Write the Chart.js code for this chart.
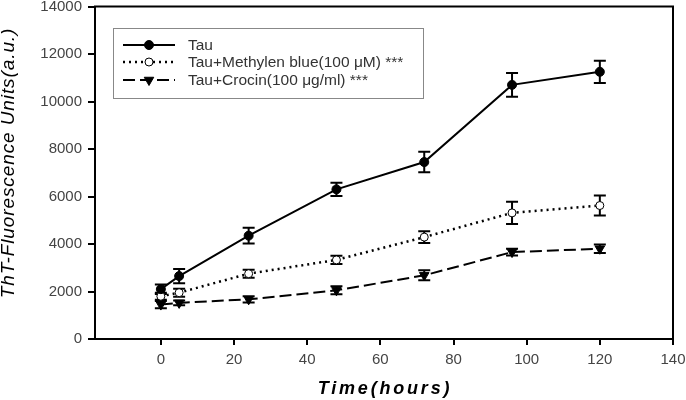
<!DOCTYPE html>
<html>
<head>
<meta charset="utf-8">
<script src="https://cdn.jsdelivr.net/npm/chart.js@4.4.1/dist/chart.umd.min.js"></script>
<style>
  html, body { margin: 0; padding: 0; background: #fff; }
</style>
</head>
<body>
<canvas id="chart" width="686" height="400"></canvas>
<script>
// --- data ---
const times = [0, 5, 24, 48, 72, 96, 120];
const seriesNames = ["Tau", "Tau+Methylen blue(100 \u03bcM) ***", "Tau+Crocin(100 \u03bcg/ml) ***"];
const tau = [2100, 2650, 4350, 6300, 7450, 10700, 11250];
const tauErr = [200, 300, 330, 280, 430, 500, 470];
const methylene = [1800, 1950, 2750, 3330, 4290, 5310, 5620];
const methyleneErr = [150, 170, 170, 175, 250, 470, 420];
const crocin = [1450, 1520, 1670, 2050, 2680, 3660, 3800];
const crocinErr = [150, 100, 130, 170, 210, 140, 180];
const xTicks = [0, 20, 40, 60, 80, 100, 120, 140];
const xTitle = "Time(hours)";
const yTitle = "ThT-Fluorescence Units(a.u.)";

const errors = [tauErr, methyleneErr, crocinErr];
const toPoints = (vals) => vals.map((v, i) => ({ x: times[i], y: v }));

// error bars with caps, drawn under the markers
const errorBars = {
  id: "errorBars",
  beforeDatasetsDraw(chart) {
    const ctx = chart.ctx;
    const yScale = chart.scales.y;
    ctx.save();
    ctx.strokeStyle = "#000";
    ctx.lineWidth = 2;
    chart.data.datasets.forEach((ds, i) => {
      const meta = chart.getDatasetMeta(i);
      meta.data.forEach((pt, j) => {
        const e = errors[i][j];
        const v = ds.data[j].y;
        const top = yScale.getPixelForValue(v + e);
        const bot = yScale.getPixelForValue(v - e);
        ctx.beginPath();
        ctx.moveTo(pt.x, top);
        ctx.lineTo(pt.x, bot);
        ctx.moveTo(pt.x - 6, top);
        ctx.lineTo(pt.x + 6, top);
        ctx.moveTo(pt.x - 6, bot);
        ctx.lineTo(pt.x + 6, bot);
        ctx.stroke();
      });
    });
    ctx.restore();
  }
};

// box frame, axis titles and the legend inside the plot
const frameAndLegend = {
  id: "frameAndLegend",
  afterDraw(chart) {
    const ctx = chart.ctx;
    const a = chart.chartArea;
    ctx.save();
    ctx.strokeStyle = "#000";
    ctx.lineWidth = 2;
    ctx.beginPath();
    ctx.moveTo(a.left - 1, a.top);
    ctx.lineTo(a.right, a.top);
    ctx.lineTo(a.right, a.bottom + 1);
    ctx.stroke();

    // axis titles (spaced out like the original)
    ctx.fillStyle = "#000";
    ctx.textAlign = "center";
    ctx.textBaseline = "middle";
    ctx.font = "italic bold 18px 'Liberation Sans', Arial, sans-serif";
    ctx.letterSpacing = "2.8px";
    ctx.fillText(xTitle, (a.left + a.right) / 2 + 1, 389);
    ctx.save();
    ctx.translate(9, 163);
    ctx.rotate(-Math.PI / 2);
    ctx.font = "italic 19px 'Liberation Sans', Arial, sans-serif";
    ctx.letterSpacing = "0.9px";
    ctx.fillText(yTitle, 0, 0);
    ctx.restore();
    ctx.letterSpacing = "0px";
    ctx.textAlign = "left";

    // legend box
    ctx.strokeStyle = "#888";
    ctx.lineWidth = 1;
    ctx.strokeRect(113.5, 28.5, 310, 70);

    const rows = [45, 62, 80];
    chart.data.datasets.forEach((ds, i) => {
      const y = rows[i];
      ctx.strokeStyle = "#000";
      ctx.lineWidth = ds.borderWidth;
      ctx.setLineDash(ds.borderDash || []);
      ctx.beginPath();
      ctx.moveTo(123, y);
      ctx.lineTo(175, y);
      ctx.stroke();
      ctx.setLineDash([]);
      ctx.fillStyle = ds.pointBackgroundColor;
      ctx.strokeStyle = ds.pointBorderColor;
      ctx.lineWidth = ds.pointBorderWidth;
      Chart.helpers.drawPoint(ctx, {
        pointStyle: ds.pointStyle,
        radius: ds.pointRadius,
        rotation: ds.pointRotation || 0,
        borderWidth: ds.pointBorderWidth
      }, 149, y);
      ctx.fillStyle = "#333";
      ctx.font = "15.5px 'Liberation Sans', Arial, sans-serif";
      ctx.textBaseline = "middle";
      ctx.fillText(seriesNames[i], 188, y + 1);
    });
    ctx.restore();
  }
};

new Chart(document.getElementById("chart"), {
  type: "line",
  data: {
    datasets: [
      {
        label: seriesNames[0],
        data: toPoints(tau),
        borderColor: "#000",
        borderWidth: 2,
        pointStyle: "circle",
        pointRadius: 4.5,
        pointBackgroundColor: "#000",
        pointBorderColor: "#000",
        pointBorderWidth: 1
      },
      {
        label: seriesNames[1],
        data: toPoints(methylene),
        borderColor: "#000",
        borderWidth: 2.5,
        borderDash: [2, 4],
        pointStyle: "circle",
        pointRadius: 4,
        pointBackgroundColor: "#fff",
        pointBorderColor: "#000",
        pointBorderWidth: 1
      },
      {
        label: seriesNames[2],
        data: toPoints(crocin),
        borderColor: "#000",
        borderWidth: 2,
        borderDash: [12, 5],
        pointStyle: "triangle",
        pointRotation: 180,
        pointRadius: 5.5,
        pointBackgroundColor: "#000",
        pointBorderColor: "#000",
        pointBorderWidth: 1
      }
    ]
  },
  options: {
    responsive: false,
    animation: false,
    devicePixelRatio: 1,
    layout: { padding: { top: 5, right: 13, left: 0, bottom: 0 } },
    plugins: {
      legend: { display: false },
      tooltip: { enabled: false }
    },
    scales: {
      x: {
        type: "linear",
        min: -18,
        max: 140,
        afterBuildTicks: (scale) => {
          scale.ticks = xTicks.map((v) => ({ value: v }));
        },
        afterFit: (scale) => {
          scale.height = 61;
          scale.paddingLeft = 0;
          scale.paddingRight = 0;
        },
        border: { display: true, color: "#000", width: 2 },
        grid: { display: true, drawOnChartArea: false, drawTicks: true, tickLength: 6, color: "#000", lineWidth: 2 },
        ticks: { color: "#444", font: { family: "'Liberation Sans', Arial", size: 15 }, padding: 6, maxRotation: 0 }
      },
      y: {
        min: 0,
        max: 14000,
        ticks: {
          stepSize: 2000,
          color: "#444",
          font: { family: "'Liberation Sans', Arial", size: 15 },
          padding: 6,
          callback: (v) => String(v)
        },
        afterFit: (scale) => {
          scale.width = 95;
          scale.paddingTop = 0;
          scale.paddingBottom = 0;
        },
        border: { display: true, color: "#000", width: 2 },
        grid: { display: true, drawOnChartArea: false, drawTicks: true, tickLength: 7, color: "#000", lineWidth: 2 }
      }
    }
  },
  plugins: [errorBars, frameAndLegend]
});
</script>
</body>
</html>
